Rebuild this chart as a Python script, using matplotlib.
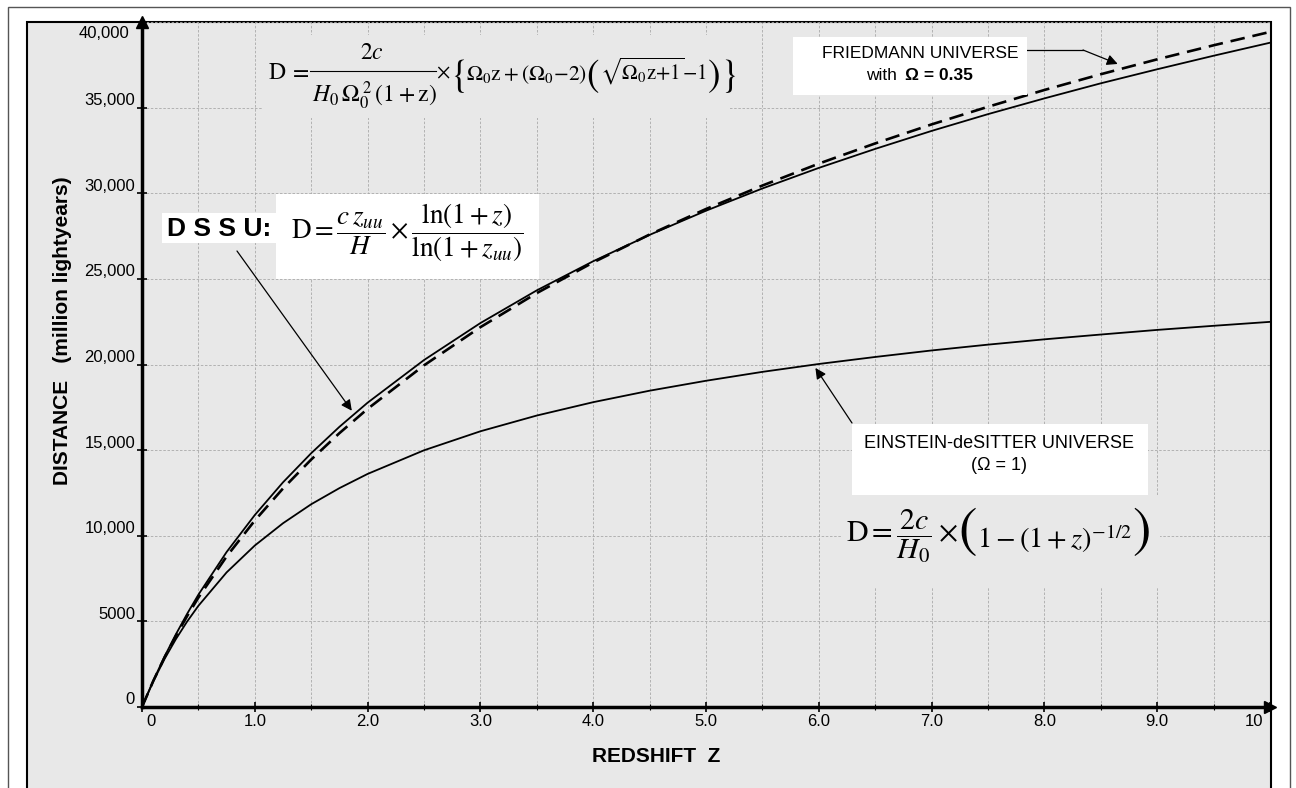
import matplotlib
matplotlib.use('Agg')
import matplotlib.pyplot as plt
import matplotlib.transforms as mtransforms
from matplotlib.patches import Rectangle
from matplotlib.lines import Line2D
import numpy as np

plt.rcParams['font.family'] = ['Liberation Sans', 'DejaVu Sans']
plt.rcParams['mathtext.fontset'] = 'stix'

# Values (distance in million lightyears)
redshift = [0, 0.1, 0.2, 0.3, 0.4, 0.5, 0.75, 1.0, 1.25, 1.5, 1.75, 2.0, 2.5, 3.0,
            3.5, 4.0, 4.5, 5.0, 5.5, 6.0, 6.5, 7.0, 7.5, 8.0, 8.5, 9.0, 9.5, 10.0]
dssu = [0, 1540, 2950, 4240, 5440, 6560, 9050, 11210, 13120, 14820, 16360, 17770, 20260, 22420,
        24330, 26030, 27570, 28980, 30280, 31480, 32590, 33640, 34620, 35540, 36420, 37240, 38030, 38790]
friedmann = [0, 1520, 2900, 4150, 5310, 6390, 8790, 10890, 12760, 14450, 15990, 17410, 19950, 22180,
             24170, 25960, 27590, 29080, 30450, 31730, 32910, 34020, 35050, 36030, 36950, 37820, 38640, 39420]
einstein = [0, 1500, 2810, 3960, 4990, 5910, 7860, 9430, 10730, 11840, 12780, 13610, 14990, 16100,
            17020, 17800, 18470, 19050, 19570, 20030, 20440, 20820, 21160, 21470, 21750, 22020, 22260, 22490]

x_ticks = [0, 1, 2, 3, 4, 5, 6, 7, 8, 9, 10]
x_labels = ['0', '1.0', '2.0', '3.0', '4.0', '5.0', '6.0', '7.0', '8.0', '9.0', '10']
y_ticks = [0, 5000, 10000, 15000, 20000, 25000, 30000, 35000, 40000]
y_labels = ['0', '5000', '10,000', '15,000', '20,000', '25,000', '30,000', '35,000', '40,000']

# Settings
W, H = 1296, 788
panel_color = '#e8e8e8'
grid_color = '#a9a9a9'


def fx(x):
    return x / W


def fy(y):
    return 1 - y / H


def box(x0, y0, x1, y1, color, **kw):
    # rectangle given in pixels from the top-left corner
    r = Rectangle((fx(x0), fy(y1)), fx(x1) - fx(x0), fy(y0) - fy(y1),
                  transform=fig.transFigure, facecolor=color, edgecolor='none', zorder=2.5, **kw)
    fig.patches.append(r)


def ftext(x, y, s, **kw):
    return fig.text(fx(x), fy(y), s, zorder=3, **kw)


def chain(x, parts):
    # lay text pieces out left to right, each one after the previous
    renderer = fig.canvas.get_renderer()
    for s, size, va, y, gap in parts:
        t = ftext(x + gap, y, s, fontsize=size, ha='left', va=va)
        x = t.get_window_extent(renderer).x1


fig = plt.figure(figsize=(W / 100, H / 100), dpi=100)

# outer frame and grey panel
fig.patches.append(Rectangle((fx(8), fy(800)), fx(1290) - fx(8), fy(7) - fy(800),
                             transform=fig.transFigure, fill=False, ec='#555555', lw=1, zorder=-5))
fig.patches.append(Rectangle((fx(27), fy(800)), fx(1271) - fx(27), fy(22) - fy(800),
                             transform=fig.transFigure, fc=panel_color, ec='black', lw=1.5, zorder=-4))

ax = fig.add_axes([fx(142), fy(707), fx(1270) - fx(142), fy(22) - fy(707)])
ax.set_facecolor('none')
ax.set_xlim(0, 10)
ax.set_ylim(0, 40000)

ax.plot(redshift, dssu, color='black', lw=1.3, zorder=3)
ax.plot(redshift, friedmann, color='black', lw=1.9, dashes=(5.5, 3), zorder=3)
ax.plot(redshift, einstein, color='black', lw=1.3, zorder=3)

# grid
ax.set_xticks(x_ticks)
ax.set_xticks(np.arange(0.5, 10, 1.0), minor=True)
ax.set_yticks(y_ticks)
ax.set_xticklabels([])
ax.set_yticklabels([])
ax.set_axisbelow(True)
ax.grid(which='both', axis='x', color=grid_color, lw=0.6, ls=(0, (3, 2)))
ax.grid(which='major', axis='y', color=grid_color, lw=0.6, ls=(0, (3, 2)))
ax.tick_params(which='major', direction='inout', length=7, width=1.2)
ax.tick_params(which='minor', direction='inout', length=4, width=0.8)

for side in ['top', 'right']:
    ax.spines[side].set_visible(False)
for side in ['left', 'bottom']:
    ax.spines[side].set_linewidth(2.5)
ax.plot([1], [0], marker='>', ms=9, color='black', transform=ax.transAxes, clip_on=False)
ax.plot([0], [1], marker='^', ms=9, color='black', transform=ax.transAxes, clip_on=False)

# tick labels, shifted like the original
for val, lab in zip(y_ticks, y_labels):
    dy = -11 if val == 40000 else 7
    dx = -13 if val == 40000 else -7
    tr = mtransforms.offset_copy(ax.get_yaxis_transform(), fig=fig, x=dx, y=dy, units='dots')
    ax.text(0, val, lab, transform=tr, ha='right', va='center', fontsize=12)
for val, lab in zip(x_ticks, x_labels):
    dx = 9 if val == 0 else (-16 if val == 10 else 0)
    tr = mtransforms.offset_copy(ax.get_xaxis_transform(), fig=fig, x=dx, y=-14, units='dots')
    ax.text(val, 0, lab, transform=tr, ha='center', va='center', fontsize=12)

# axis titles
ftext(63, 331, 'DISTANCE   (million lightyears)', rotation=90, fontweight='bold',
      fontsize=15, ha='center', va='center')
ftext(656, 757, 'REDSHIFT  Z', fontweight='bold', fontsize=15, ha='center', va='center')

# Friedmann formula (built from pieces so the fraction is tall like the original)
box(262, 35, 730, 118, panel_color)
ftext(268, 73, r'$\mathrm{D}$', fontsize=17, ha='left', va='center')
ftext(299, 72, r'$=$', fontsize=17, ha='center', va='center')
fig.lines.append(Line2D([fx(310), fx(436)], [fy(71), fy(71)], transform=fig.transFigure,
                        color='black', lw=0.8, zorder=3))
ftext(372, 53, r'$2c$', fontsize=17, ha='center', va='center')
ftext(374, 96, r'$H_0\,\Omega_0^{\;2}\,(1+\mathrm{z})$', fontsize=17, ha='center', va='center')
chain(436, [
    (r'$\times$', 15, 'center', 73, 0),
    (r'$\{$', 27, 'center', 76, 0),
    (r'$\Omega_0\mathrm{z}+(\Omega_0{-}2)$', 15.5, 'baseline', 80, 0),
    (r'$($', 27, 'center', 76, 0),
    (r'$\sqrt{\Omega_0\mathrm{z}{+}1}{-}1$', 15, 'baseline', 80, 0),
    (r'$)$', 27, 'center', 76, 0),
    (r'$\}$', 27, 'center', 76, 0),
])

box(793, 37, 1027, 95, 'white')
ftext(920, 53, 'FRIEDMANN UNIVERSE', fontsize=12.5, ha='center', va='center')
ftext(902, 75, 'with ', fontsize=12.5, ha='right', va='center')
ftext(905, 75, '\u03a9 = 0.35', fontsize=12.5, fontweight='bold', ha='left', va='center')
fig.lines.append(Line2D([fx(1027), fx(1083)], [fy(50), fy(50)], transform=fig.transFigure,
                        color='black', lw=0.9))
ax.annotate('', xy=(8.65, 37550), xytext=(1083, H - 50), textcoords='figure pixels',
            arrowprops=dict(arrowstyle='-|>', color='black', lw=0.9, mutation_scale=16,
                            shrinkA=0, shrinkB=0), annotation_clip=False)

# DSSU formula and label
box(162, 213, 276, 243, 'white')
ftext(219, 229, 'D S S U:', fontsize=19, fontweight='bold', ha='center', va='center')
box(276, 194, 539, 279, 'white')
ftext(407, 233, r'$\mathrm{D}=\dfrac{c\,z_{uu}}{H}\times\dfrac{\ln(1+z)}{\ln(1+z_{uu})}$',
      fontsize=19.5, ha='center', va='center')
ax.annotate('', xy=(1.86, 17300), xytext=(237, H - 251), textcoords='figure pixels',
            arrowprops=dict(arrowstyle='-|>', color='black', lw=0.9, mutation_scale=16,
                            shrinkA=0, shrinkB=0), annotation_clip=False)

# Einstein-deSitter formula and label
box(852, 424, 1148, 495, 'white')
ftext(999, 443, 'EINSTEIN-deSITTER UNIVERSE', fontsize=13, ha='center', va='center')
ftext(999, 465, '(\u03a9 = 1)', fontsize=13, ha='center', va='center')
box(842, 495, 1160, 587, panel_color)
chain(846, [
    (r'$\mathrm{D}=\dfrac{2c}{H_0}\times$', 21.5, 'center', 537, 0),
    (r'$($', 40, 'center', 532, 0),
    (r'$1-(1+z)^{-1/2}$', 20.5, 'baseline', 548, 0),
    (r'$)$', 40, 'center', 532, 0),
])
ax.annotate('', xy=(5.97, 19800), xytext=(852, H - 423), textcoords='figure pixels',
            arrowprops=dict(arrowstyle='-|>', color='black', lw=0.9, mutation_scale=16,
                            shrinkA=0, shrinkB=0), annotation_clip=False)

fig.savefig('out.png', dpi=100)
